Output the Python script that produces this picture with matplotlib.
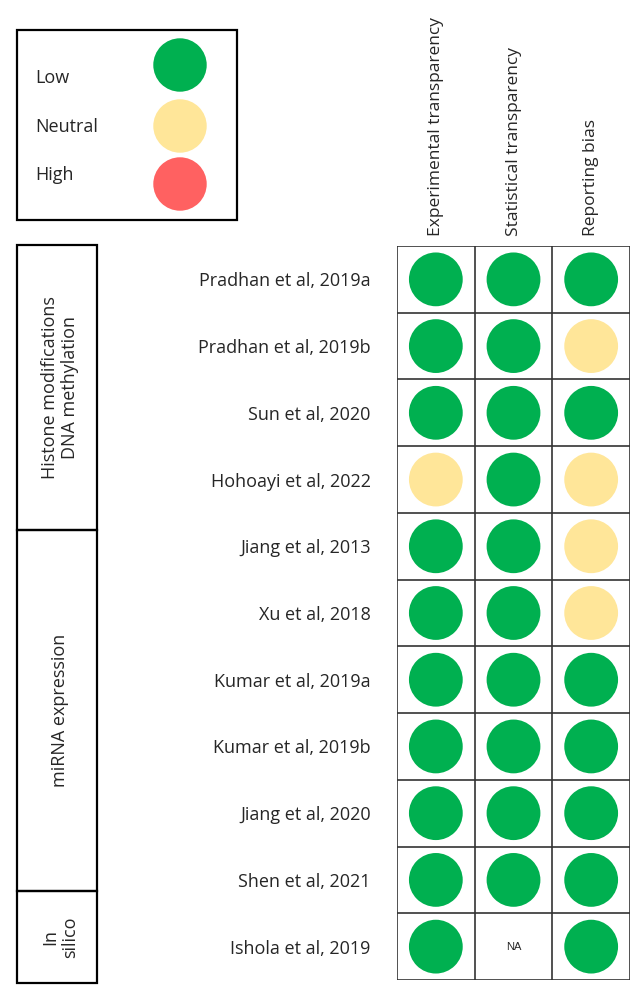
import matplotlib
matplotlib.use("Agg")
import matplotlib.pyplot as plt
from matplotlib.patches import Rectangle

plt.rcParams['font.family'] = ['Open Sans', 'DejaVu Sans']

# ---- data ----
studies = ["Pradhan et al, 2019a", "Pradhan et al, 2019b", "Sun et al, 2020",
           "Hohoayi et al, 2022", "Jiang et al, 2013", "Xu et al, 2018",
           "Kumar et al, 2019a", "Kumar et al, 2019b", "Jiang et al, 2020",
           "Shen et al, 2021", "Ishola et al, 2019"]
domains = ["Experimental transparency", "Statistical transparency", "Reporting bias"]
experimental = ["Low", "Low", "Low", "Neutral", "Low", "Low", "Low", "Low", "Low", "Low", "Low"]
statistical = ["Low", "Low", "Low", "Low", "Low", "Low", "Low", "Low", "Low", "Low", "NA"]
reporting = ["Low", "Neutral", "Low", "Neutral", "Neutral", "Neutral", "Low", "Low", "Low", "Low", "Low"]
risk_levels = ["Low", "Neutral", "High"]
groups = ["Histone modifications\nDNA methylation", "miRNA expression", "In\nsilico"]

colors = {"Low": "#00B050", "Neutral": "#FFE699", "High": "#FF6161"}
txt = "#262626"

W, H = 633, 985
fig = plt.figure(figsize=(W / 100, H / 100), dpi=100)

# ---- overlay axes in pixel coordinates for boxes ----
ov = fig.add_axes([0, 0, 1, 1])
ov.set_xlim(0, W)
ov.set_ylim(H, 0)
ov.axis("off")

# legend box
ov.add_patch(Rectangle((17, 30), 220, 190, fill=False, lw=1.6, ec="black"))
leg_y = [65, 126, 184]
leg_ty = [78, 127, 175]
for lvl, cy, ty in zip(risk_levels, leg_y, leg_ty):
    ov.scatter([180], [cy], s=1480, color=colors[lvl], edgecolors="none")
    ov.text(35, ty, lvl, fontsize=13, va="center", ha="left", color=txt)

# group boxes
bounds = [245, 530, 891, 983]
for i, g in enumerate(groups):
    y0, y1 = bounds[i], bounds[i + 1]
    ov.add_patch(Rectangle((17, y0), 80, y1 - y0, fill=False, lw=1.6, ec="black"))
    ov.text(60, (y0 + y1) / 2, g, rotation=90, fontsize=13, ha="center",
            va="center", multialignment="center", color=txt, linespacing=1.1)

# ---- grid axes ----
gl, gr, gt, gb = 397, 630, 246, 980
ax = fig.add_axes([gl / W, 1 - gb / H, (gr - gl) / W, (gb - gt) / H])
n_rows, n_cols = len(studies), len(domains)
ax.set_xlim(-0.5, n_cols - 0.5)
ax.set_ylim(n_rows - 0.5, -0.5)

cols = [experimental, statistical, reporting]
for j, col in enumerate(cols):
    for i, v in enumerate(col):
        if v == "NA":
            ax.text(j, i, "NA", fontsize=8, ha="center", va="center", color=txt,
                    family=["Liberation Sans", "DejaVu Sans"])
        else:
            ax.scatter([j], [i], s=1500, color=colors[v], edgecolors="none", zorder=3)

for k in range(n_rows + 1):
    ax.axhline(k - 0.5, color="#333333", lw=1.2, zorder=2)
for k in range(n_cols + 1):
    ax.axvline(k - 0.5, color="#333333", lw=1.2, zorder=2)

ax.set_yticks(range(n_rows))
ax.set_yticklabels(studies, fontsize=13, color=txt)
ax.set_xticks(range(n_cols))
ax.set_xticklabels(domains, rotation=90, fontsize=12.5, color=txt)
ax.xaxis.tick_top()
ax.tick_params(axis="both", length=0)
ax.tick_params(axis="y", pad=19)
ax.tick_params(axis="x", pad=7)
for s in ax.spines.values():
    s.set_visible(False)

fig.savefig("out.png", dpi=100)
